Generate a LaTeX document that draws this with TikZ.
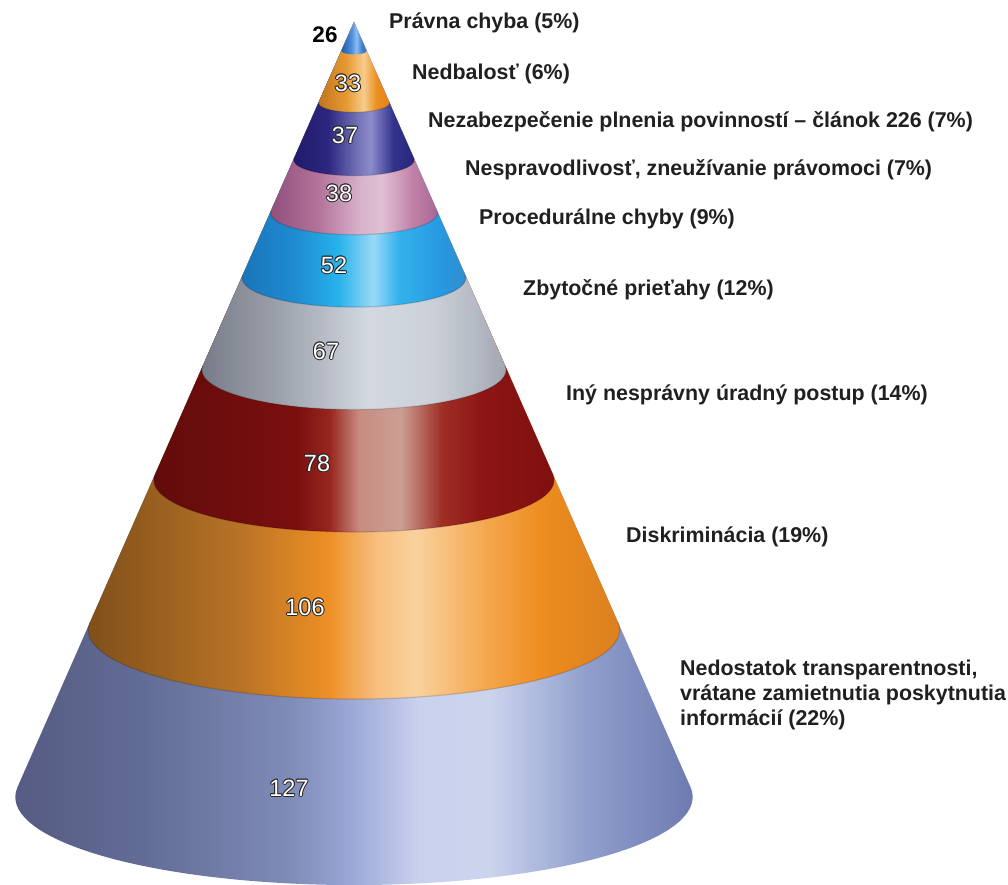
\documentclass[tikz,border=0pt]{standalone}
\usepackage{fontspec}
\setmainfont{Liberation Sans}
\usetikzlibrary{calc}

\definecolor{labc}{rgb}{0.13,0.12,0.12}
\definecolor{olc}{rgb}{0.15,0.15,0.15}

\pgfdeclarehorizontalshading{shnine}{100bp}{rgb(0bp)=(0.33,0.35,0.5); rgb(25bp)=(0.33,0.35,0.5); rgb(35bp)=(0.38,0.42,0.58); rgb(46bp)=(0.5,0.55,0.72); rgb(50bp)=(0.6,0.65,0.84); rgb(55bp)=(0.79,0.82,0.93); rgb(60bp)=(0.8,0.83,0.93); rgb(67bp)=(0.56,0.62,0.8); rgb(75bp)=(0.42,0.47,0.68); rgb(100bp)=(0.42,0.47,0.68)}
\pgfdeclarehorizontalshading{sheight}{100bp}{rgb(0bp)=(0.48,0.3,0.1); rgb(25bp)=(0.48,0.3,0.1); rgb(40bp)=(0.72,0.45,0.15); rgb(48bp)=(0.93,0.56,0.14); rgb(52.5bp)=(0.97,0.75,0.5); rgb(56bp)=(0.98,0.82,0.62); rgb(62.5bp)=(0.96,0.65,0.3); rgb(67.5bp)=(0.93,0.55,0.12); rgb(75bp)=(0.85,0.5,0.12); rgb(100bp)=(0.85,0.5,0.12)}
\pgfdeclarehorizontalshading{shseven}{100bp}{rgb(0bp)=(0.38,0.04,0.04); rgb(25bp)=(0.38,0.04,0.04); rgb(43.5bp)=(0.48,0.06,0.06); rgb(47.5bp)=(0.6,0.15,0.12); rgb(51bp)=(0.78,0.55,0.5); rgb(56bp)=(0.8,0.62,0.58); rgb(61bp)=(0.62,0.18,0.14); rgb(66bp)=(0.55,0.08,0.08); rgb(75bp)=(0.5,0.06,0.06); rgb(100bp)=(0.5,0.06,0.06)}
\pgfdeclarehorizontalshading{shsix}{100bp}{rgb(0bp)=(0.45,0.47,0.52); rgb(25bp)=(0.45,0.47,0.52); rgb(37.5bp)=(0.6,0.62,0.66); rgb(46bp)=(0.72,0.74,0.78); rgb(52.5bp)=(0.83,0.85,0.88); rgb(62.5bp)=(0.8,0.82,0.85); rgb(70bp)=(0.7,0.72,0.76); rgb(75bp)=(0.62,0.64,0.68); rgb(100bp)=(0.62,0.64,0.68)}
\pgfdeclarehorizontalshading{shfive}{100bp}{rgb(0bp)=(0.1,0.45,0.72); rgb(25bp)=(0.1,0.45,0.72); rgb(38bp)=(0.12,0.55,0.82); rgb(47bp)=(0.15,0.7,0.92); rgb(54.5bp)=(0.6,0.85,0.97); rgb(60bp)=(0.2,0.7,0.93); rgb(69bp)=(0.15,0.6,0.88); rgb(75bp)=(0.2,0.55,0.8); rgb(100bp)=(0.2,0.55,0.8)}
\pgfdeclarehorizontalshading{shfour}{100bp}{rgb(0bp)=(0.55,0.3,0.48); rgb(25bp)=(0.55,0.3,0.48); rgb(40bp)=(0.7,0.45,0.6); rgb(52.5bp)=(0.85,0.7,0.8); rgb(58.5bp)=(0.88,0.75,0.83); rgb(67.5bp)=(0.75,0.5,0.65); rgb(75bp)=(0.65,0.4,0.58); rgb(100bp)=(0.65,0.4,0.58)}
\pgfdeclarehorizontalshading{shthree}{100bp}{rgb(0bp)=(0.12,0.1,0.42); rgb(25bp)=(0.12,0.1,0.42); rgb(40bp)=(0.18,0.15,0.5); rgb(52bp)=(0.45,0.45,0.72); rgb(57bp)=(0.55,0.55,0.8); rgb(66bp)=(0.2,0.2,0.55); rgb(75bp)=(0.15,0.15,0.48); rgb(100bp)=(0.15,0.15,0.48)}
\pgfdeclarehorizontalshading{shtwo}{100bp}{rgb(0bp)=(0.75,0.45,0.1); rgb(25bp)=(0.75,0.45,0.1); rgb(45bp)=(0.9,0.6,0.2); rgb(57bp)=(0.97,0.8,0.55); rgb(66bp)=(0.92,0.55,0.12); rgb(75bp)=(0.9,0.52,0.1); rgb(100bp)=(0.9,0.52,0.1)}
\pgfdeclarehorizontalshading{shone}{100bp}{rgb(0bp)=(0.1,0.35,0.65); rgb(25bp)=(0.1,0.35,0.65); rgb(45bp)=(0.3,0.55,0.85); rgb(55bp)=(0.55,0.75,0.95); rgb(65bp)=(0.25,0.5,0.82); rgb(75bp)=(0.2,0.45,0.8); rgb(100bp)=(0.2,0.45,0.8)}

% #1 shading, #2 side level (pixels from top)
\newcommand\conepart[2]{%
  \pgfmathsetmacro\rr{0.437*(#2-22)}%
  \pgfmathsetmacro\ryy{0.26*\rr}%
  \pgfmathsetmacro\yy{885-#2}%
  \shade[shading=#1] (apex) -- ([shift={(354,\yy)}]173.48:\rr pt and \ryy pt)
     arc[start angle=173.48, end angle=366.52, x radius=\rr pt, y radius=\ryy pt] -- cycle;
}
\newcommand\conerim[1]{%
  \pgfmathsetmacro\rr{0.437*(#1-22)}%
  \pgfmathsetmacro\ryy{0.26*\rr}%
  \pgfmathsetmacro\yy{885-#1}%
  \draw[rimline] ([shift={(354,\yy)}]173.48:\rr pt and \ryy pt)
     arc[start angle=173.48, end angle=366.52, x radius=\rr pt, y radius=\ryy pt];
}
\newcommand\olnum[1]{\leavevmode
  \rlap{\textcolor{olc}{\kern-1pt#1}}%
  \rlap{\textcolor{olc}{\kern1pt#1}}%
  \rlap{\textcolor{olc}{\raisebox{1pt}{#1}}}%
  \rlap{\textcolor{olc}{\raisebox{-1pt}{#1}}}%
  \rlap{\textcolor{olc}{\kern-0.7pt\raisebox{0.7pt}{#1}}}%
  \rlap{\textcolor{olc}{\kern0.7pt\raisebox{0.7pt}{#1}}}%
  \rlap{\textcolor{olc}{\kern-0.7pt\raisebox{-0.7pt}{#1}}}%
  \rlap{\textcolor{olc}{\kern0.7pt\raisebox{-0.7pt}{#1}}}%
  \textcolor{white}{#1}}

\tikzset{
  rimline/.style={draw=black, draw opacity=0.15, line width=1.2pt},
  lab/.style={anchor=base west, inner sep=0pt, text=labc, font=\fontsize{21.4}{25}\selectfont\bfseries},
  num/.style={anchor=center, inner sep=0pt, font=\fontsize{23.5}{23.5}\selectfont},
}

\begin{document}
\begin{tikzpicture}[x=1pt,y=1pt]
\useasboundingbox (0,0) rectangle (1008,885);
\coordinate (apex) at (354,863);
% cone bands, from bottom to top
\conepart{shnine}{797}
\conepart{sheight}{630}
\conepart{shseven}{480}
\conepart{shsix}{370}
\conepart{shfive}{278}
\conepart{shfour}{213}
\conepart{shthree}{160}
\conepart{shtwo}{103}
\conepart{shone}{51}
\conerim{630}
\conerim{480}
\conerim{370}
\conerim{278}
\conerim{213}
\conerim{160}
\conerim{103}

% numbers
\node[num, font=\fontsize{22.5}{22.5}\selectfont\bfseries, text=black] (n26) at (325,850) {26};
\node[num] (n33) at (348,802) {\olnum{33}};
\node[num] (n37) at (345,750) {\olnum{37}};
\node[num] (n38) at (339,692) {\olnum{38}};
\node[num] (n52) at (334,620) {\olnum{52}};
\node[num] (n67) at (326,534) {\olnum{67}};
\node[num] (n78) at (317,422) {\olnum{78}};
\node[num] (n106) at (305,278) {\olnum{106}};
\node[num] (n127) at (289,97) {\olnum{127}};

% labels
\node[lab] (l1) at (389,856) {Právna chyba (5\%)};
\node[lab] (l2) at (412,805) {Nedbalosť (6\%)};
\node[lab] (l3) at (428,757) {Nezabezpečenie plnenia povinností – článok 226 (7\%)};
\node[lab] (l4) at (465,709) {Nespravodlivosť, zneužívanie právomoci (7\%)};
\node[lab] (l5) at (479,660) {Procedurálne chyby (9\%)};
\node[lab] (l6) at (523,589) {Zbytočné prieťahy (12\%)};
\node[lab] (l7) at (566,484) {Iný nesprávny úradný postup (14\%)};
\node[lab] (l8) at (626,342) {Diskriminácia (19\%)};
\node[lab, anchor=north west, align=left] (l9) at (680,225) {Nedostatok transparentnosti,\\vrátane zamietnutia poskytnutia\\informácií (22\%)};
\end{tikzpicture}
\end{document}
